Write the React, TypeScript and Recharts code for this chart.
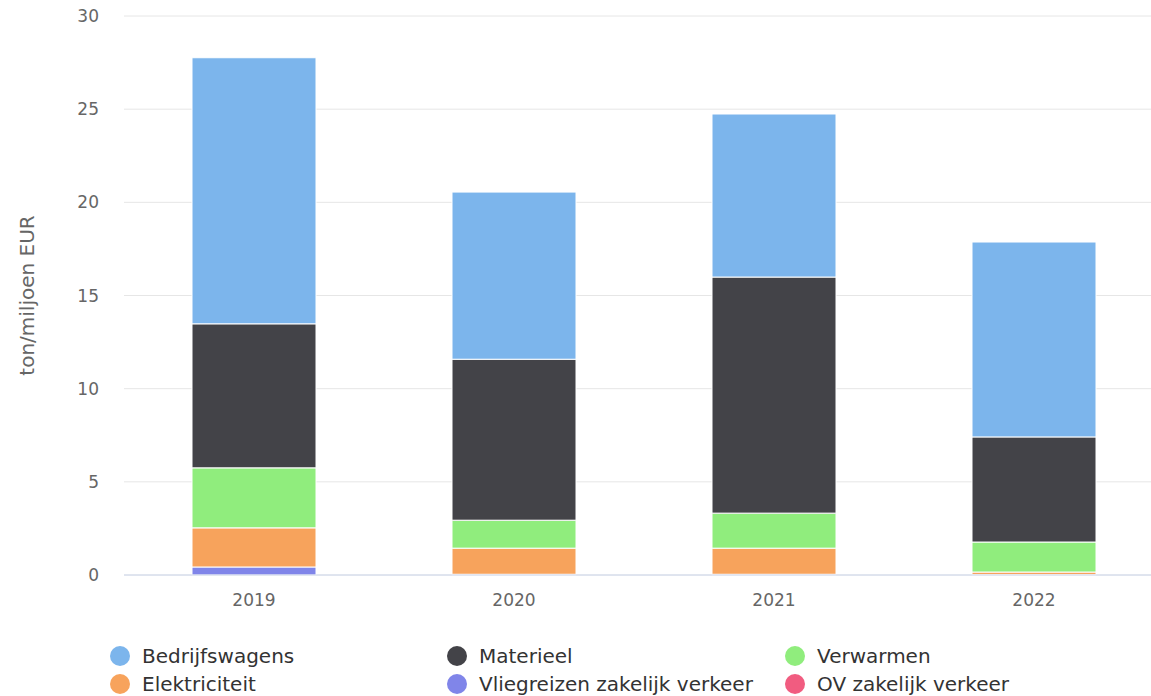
import { BarChart, Bar, XAxis, YAxis, CartesianGrid } from 'recharts';

const years = ['2019', '2020', '2021', '2022'];
const bedrijfswagens = [14.28, 8.97, 8.75, 10.46];
const materieel = [7.73, 8.64, 12.67, 5.64];
const verwarmen = [3.22, 1.5, 1.88, 1.61];
const elektriciteit = [2.1, 1.4, 1.4, 0.14];
const vliegreizen = [0.43, 0.04, 0.04, 0.02];
const ovZakelijk = [0, 0, 0, 0];
const yTicks = [0, 5, 10, 15, 20, 25, 30];

const series = [
  { key: 'Bedrijfswagens', values: bedrijfswagens, color: '#7cb5ec' },
  { key: 'Materieel', values: materieel, color: '#434348' },
  { key: 'Verwarmen', values: verwarmen, color: '#90ed7d' },
  { key: 'Elektriciteit', values: elektriciteit, color: '#f7a35c' },
  { key: 'Vliegreizen zakelijk verkeer', values: vliegreizen, color: '#8085e9' },
  { key: 'OV zakelijk verkeer', values: ovZakelijk, color: '#f15c80' },
];

const data = years.map((year, i) => {
  const row: Record<string, string | number> = { year };
  series.forEach((s) => {
    row[s.key] = s.values[i];
  });
  return row;
});

const FONT = '"DejaVu Sans", sans-serif';

export default function App() {
  // stack bottom-up: last legend item sits at the bottom
  const stackOrder = [...series].reverse();

  return (
    <div
      style={{
        position: 'absolute',
        left: 0,
        top: 0,
        width: 1151,
        height: 696,
        overflow: 'hidden',
        fontFamily: FONT,
      }}
    >
      <BarChart
        width={1164}
        height={696}
        data={data}
        margin={{ top: 16, right: 0, left: 0, bottom: 91 }}
        barCategoryGap={0}
      >
        <CartesianGrid vertical={false} stroke="#e6e6e6" />
        <XAxis
          dataKey="year"
          height={30}
          tickLine={false}
          axisLine={{ stroke: '#ccd6eb' }}
          tickMargin={13}
          tick={{ fill: '#666666', fontSize: 17, fontFamily: FONT }}
        />
        <YAxis
          width={124}
          domain={[0, 30]}
          ticks={yTicks}
          tickLine={false}
          axisLine={false}
          tickMargin={19}
          tick={{ fill: '#666666', fontSize: 17, fontFamily: FONT }}
          label={{
            value: 'ton/miljoen EUR',
            angle: -90,
            position: 'insideLeft',
            offset: 27,
            style: { textAnchor: 'middle', fill: '#666666', fontSize: 20, fontFamily: FONT },
          }}
        />
        {stackOrder.map((s) => (
          <Bar
            key={s.key}
            dataKey={s.key}
            stackId="a"
            fill={s.color}
            stroke="#ffffff"
            strokeWidth={1}
            barSize={124}
            isAnimationActive={false}
          />
        ))}
      </BarChart>
      <div
        style={{
          position: 'absolute',
          left: 110,
          top: 644,
          display: 'grid',
          gridTemplateColumns: '337px 338px 320px',
          rowGap: 4,
          fontSize: 20,
          color: '#333333',
        }}
      >
        {series.map((s) => (
          <div key={s.key} style={{ display: 'flex', alignItems: 'center', height: 24 }}>
            <span
              style={{
                width: 20,
                height: 20,
                borderRadius: '50%',
                background: s.color,
                display: 'inline-block',
                marginRight: 12,
              }}
            />
            <span>{s.key}</span>
          </div>
        ))}
      </div>
    </div>
  );
}
